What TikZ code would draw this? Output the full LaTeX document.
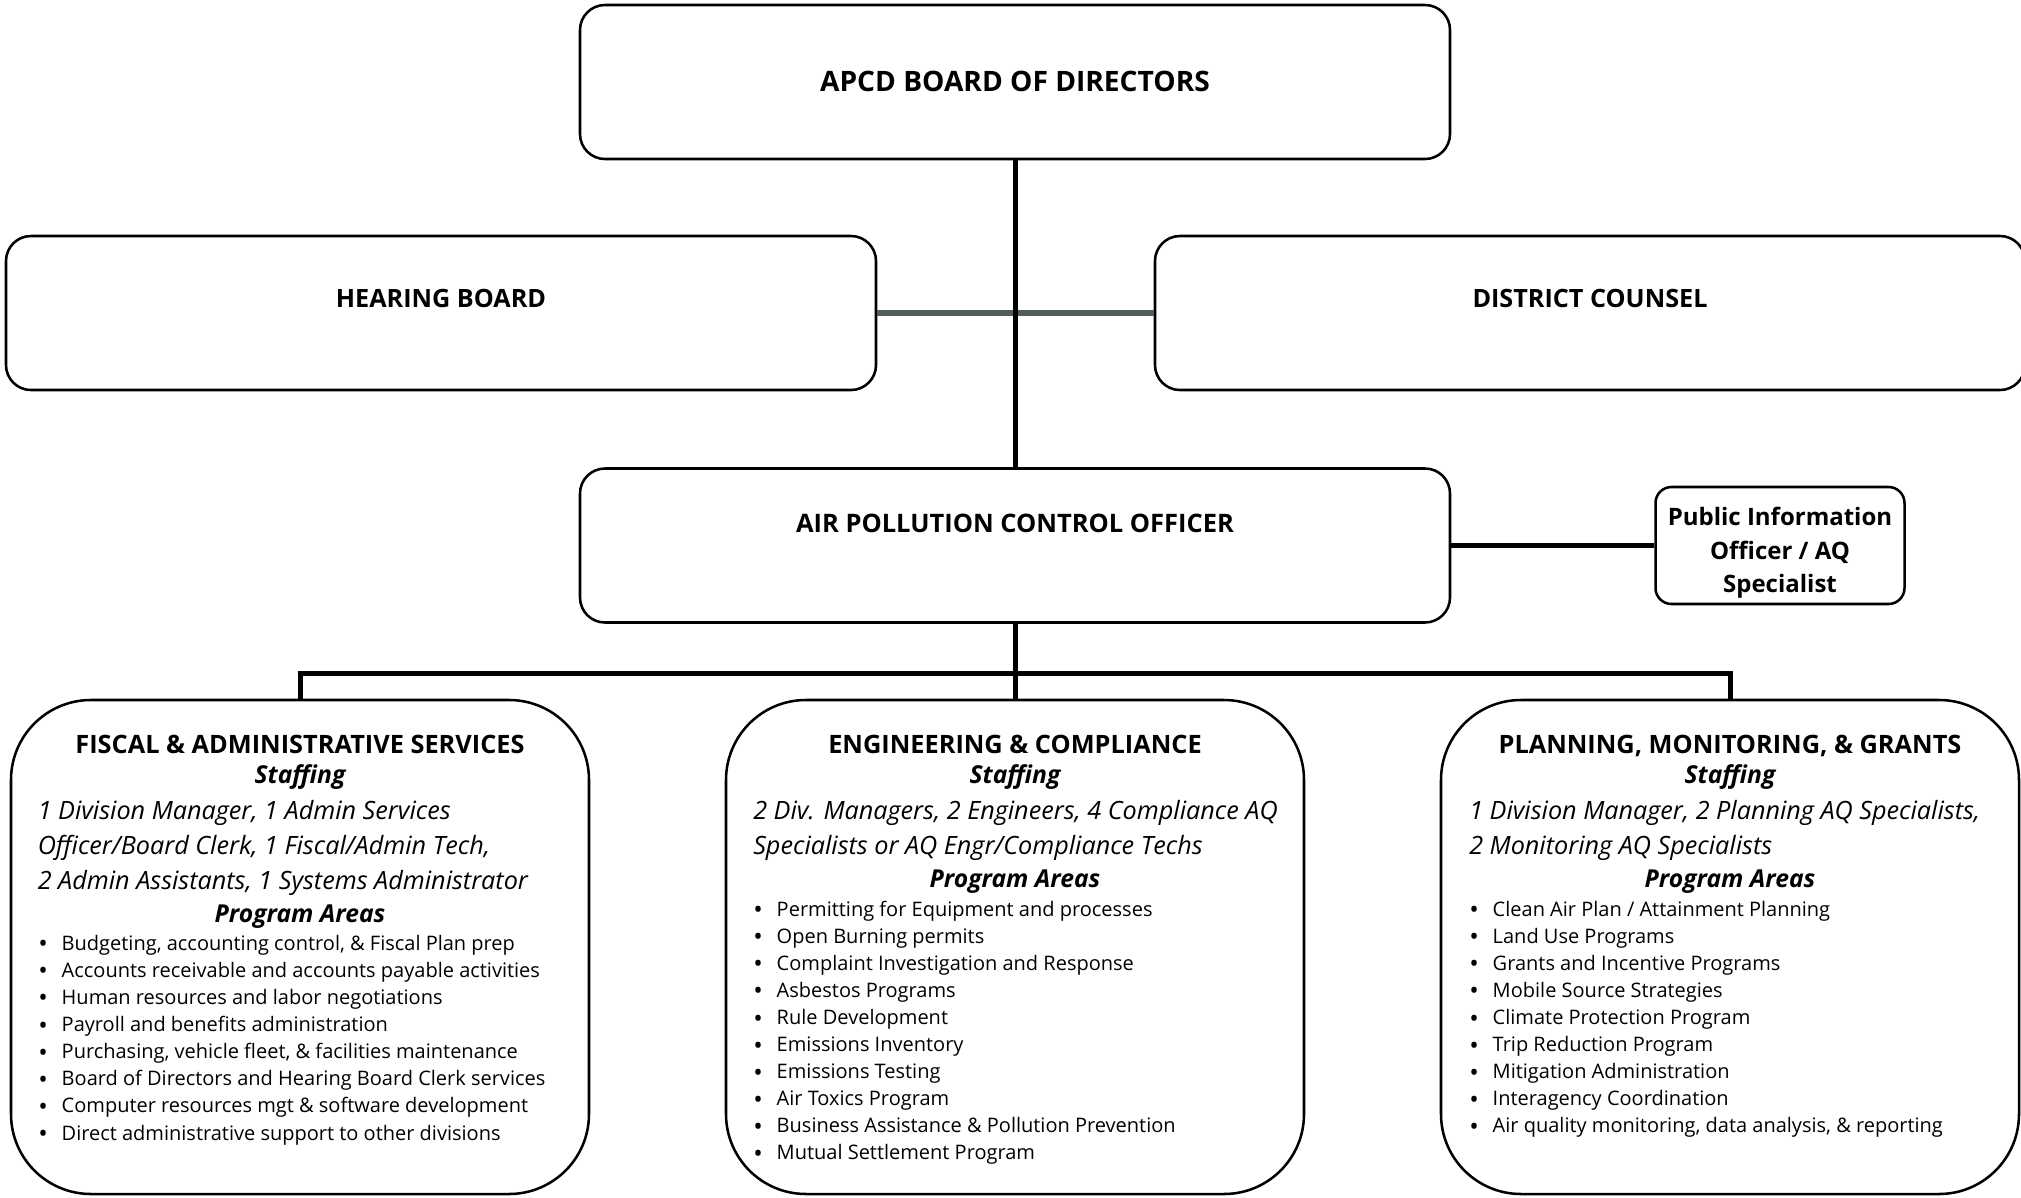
\documentclass[tikz,border=0pt]{standalone}
\usepackage{fontspec}
\setmainfont{Open Sans}
\definecolor{linegray}{RGB}{83,92,92}
\begin{document}
\begin{tikzpicture}[x=0.75pt,y=-0.75pt,
  topbox/.style={draw, line width=1.9pt, rounded corners=18.75pt, inner sep=0pt, minimum width=870*0.75pt, minimum height=154*0.75pt},
  divbox/.style={draw, line width=1.9pt, rounded corners=60pt, inner sep=0pt, minimum width=578*0.75pt, minimum height=494*0.75pt},
  piobox/.style={draw, line width=1.9pt, rounded corners=12pt, inner sep=0pt, minimum width=249*0.75pt, minimum height=117*0.75pt},
  conn/.style={line width=3.75pt, draw=black},
  grayconn/.style={line width=4.5pt, draw=linegray},
  bigtitle/.style={font=\fontsize{18.9}{22}\selectfont\bfseries, inner sep=0pt, anchor=base},
  divtitle/.style={font=\fontsize{19}{22}\selectfont\bfseries, inner sep=0pt, anchor=base},
  subhead/.style={font=\fontsize{18.5}{22}\selectfont\bfseries\itshape, inner sep=0pt, anchor=base},
  staff/.style={font=\fontsize{18.9}{22}\selectfont\itshape, inner sep=0pt, anchor=base west},
  bul/.style={font=\fontsize{15}{18}\selectfont, inner sep=0pt, anchor=base west},
  piotext/.style={font=\fontsize{18}{25}\selectfont\bfseries, inner sep=0pt, align=center},
]
\useasboundingbox (0,0) rectangle (2021,1197);
\newcommand\bb[1]{\makebox[17.6pt][l]{\raisebox{-2pt}{\fontsize{19}{19}\selectfont\textbullet}}#1}

% boxes
\node[topbox] (apcd) at (1015,82) {};
\node[topbox] (hearing) at (441,313) {};
\node[topbox] (counsel) at (1590,313) {};
\node[topbox] (apco) at (1015,545.5) {};
\node[piobox] (pio) at (1780,545.5) {};
\node[divbox] (fiscal) at (300,947) {};
\node[divbox] (eng) at (1015,947) {};
\node[divbox] (plan) at (1730,947) {};

% connectors
\draw[grayconn] (hearing.east) -- (counsel.west);
\draw[conn] (apcd.south) -- (apco.north);
\draw[conn] (apco.east) -- (pio.west);
\draw[conn] (apco.south) -- (eng.north);
\draw[conn] (fiscal.north) -- ++(0,-25) -| (plan.north);

% top texts
\node[bigtitle, font=\fontsize{21.1}{24}\selectfont\bfseries] (apcdT) at (1015,91) {APCD BOARD OF DIRECTORS};
\node[bigtitle] (hearingT) at (441,307) {HEARING BOARD};
\node[bigtitle] (counselT) at (1590,307) {DISTRICT COUNSEL};
\node[bigtitle, font=\fontsize{19.1}{22}\selectfont\bfseries] (apcoT) at (1015,532) {AIR POLLUTION CONTROL OFFICER};
\node[piotext] (pioT) at (1780,553) {Public Information\\Officer / AQ\\Specialist};

% fiscal
\node[divtitle] (fiscalT) at (300,753) {FISCAL \& ADMINISTRATIVE SERVICES};
\node[subhead] (fiscalS) at (300,783) {Staffing};
\foreach \t [count=\i] in {{1 Division Manager, 1 Admin Services},{Officer/Board Clerk, 1 Fiscal/Admin Tech,},{2 Admin Assistants, 1 Systems Administrator}}
  \node[staff] (fst\i) at (37.5,{819+35*(\i-1)}) {\t};
\node[subhead] (fiscalP) at (300,922) {Program Areas};
\foreach \t [count=\i] in {{Budgeting, accounting control, \& Fiscal Plan prep},{Accounts receivable and accounts payable activities},{Human resources and labor negotiations},{Payroll and benefits administration},{Purchasing, vehicle fleet, \& facilities maintenance},{Board of Directors and Hearing Board Clerk services},{Computer resources mgt \& software development},{Direct administrative support to other divisions}}
  \node[bul] (fb\i) at (38,{950+27.15*(\i-1)}) {\bb{\t}};

% engineering
\node[divtitle] (engT) at (1015,753) {ENGINEERING \& COMPLIANCE};
\node[subhead] (engS) at (1015,783) {Staffing};
\foreach \t [count=\i] in {{2 Div. Managers, 2 Engineers, 4 Compliance AQ},{Specialists or AQ Engr/Compliance Techs}}
  \node[staff] (est\i) at (753,{819+35*(\i-1)}) {\t};
\node[subhead] (engP) at (1015,887) {Program Areas};
\foreach \t [count=\i] in {{Permitting for Equipment and processes},{Open Burning permits},{Complaint Investigation and Response},{Asbestos Programs},{Rule Development},{Emissions Inventory},{Emissions Testing},{Air Toxics Program},{Business Assistance \& Pollution Prevention},{Mutual Settlement Program}}
  \node[bul] (eb\i) at (753,{916+27.1*(\i-1)}) {\bb{\t}};

% planning
\node[divtitle] (planT) at (1730,753) {PLANNING, MONITORING, \& GRANTS};
\node[subhead] (planS) at (1730,783) {Staffing};
\foreach \t [count=\i] in {{1 Division Manager, 2 Planning AQ Specialists,},{2 Monitoring AQ Specialists}}
  \node[staff] (pst\i) at (1469,{819+35*(\i-1)}) {\t};
\node[subhead] (planP) at (1730,887) {Program Areas};
\foreach \t [count=\i] in {{Clean Air Plan / Attainment Planning},{Land Use Programs},{Grants and Incentive Programs},{Mobile Source Strategies},{Climate Protection Program},{Trip Reduction Program},{Mitigation Administration},{Interagency Coordination},{Air quality monitoring, data analysis, \& reporting}}
  \node[bul] (pb\i) at (1469,{916+27.1*(\i-1)}) {\bb{\t}};
\end{tikzpicture}
\end{document}
